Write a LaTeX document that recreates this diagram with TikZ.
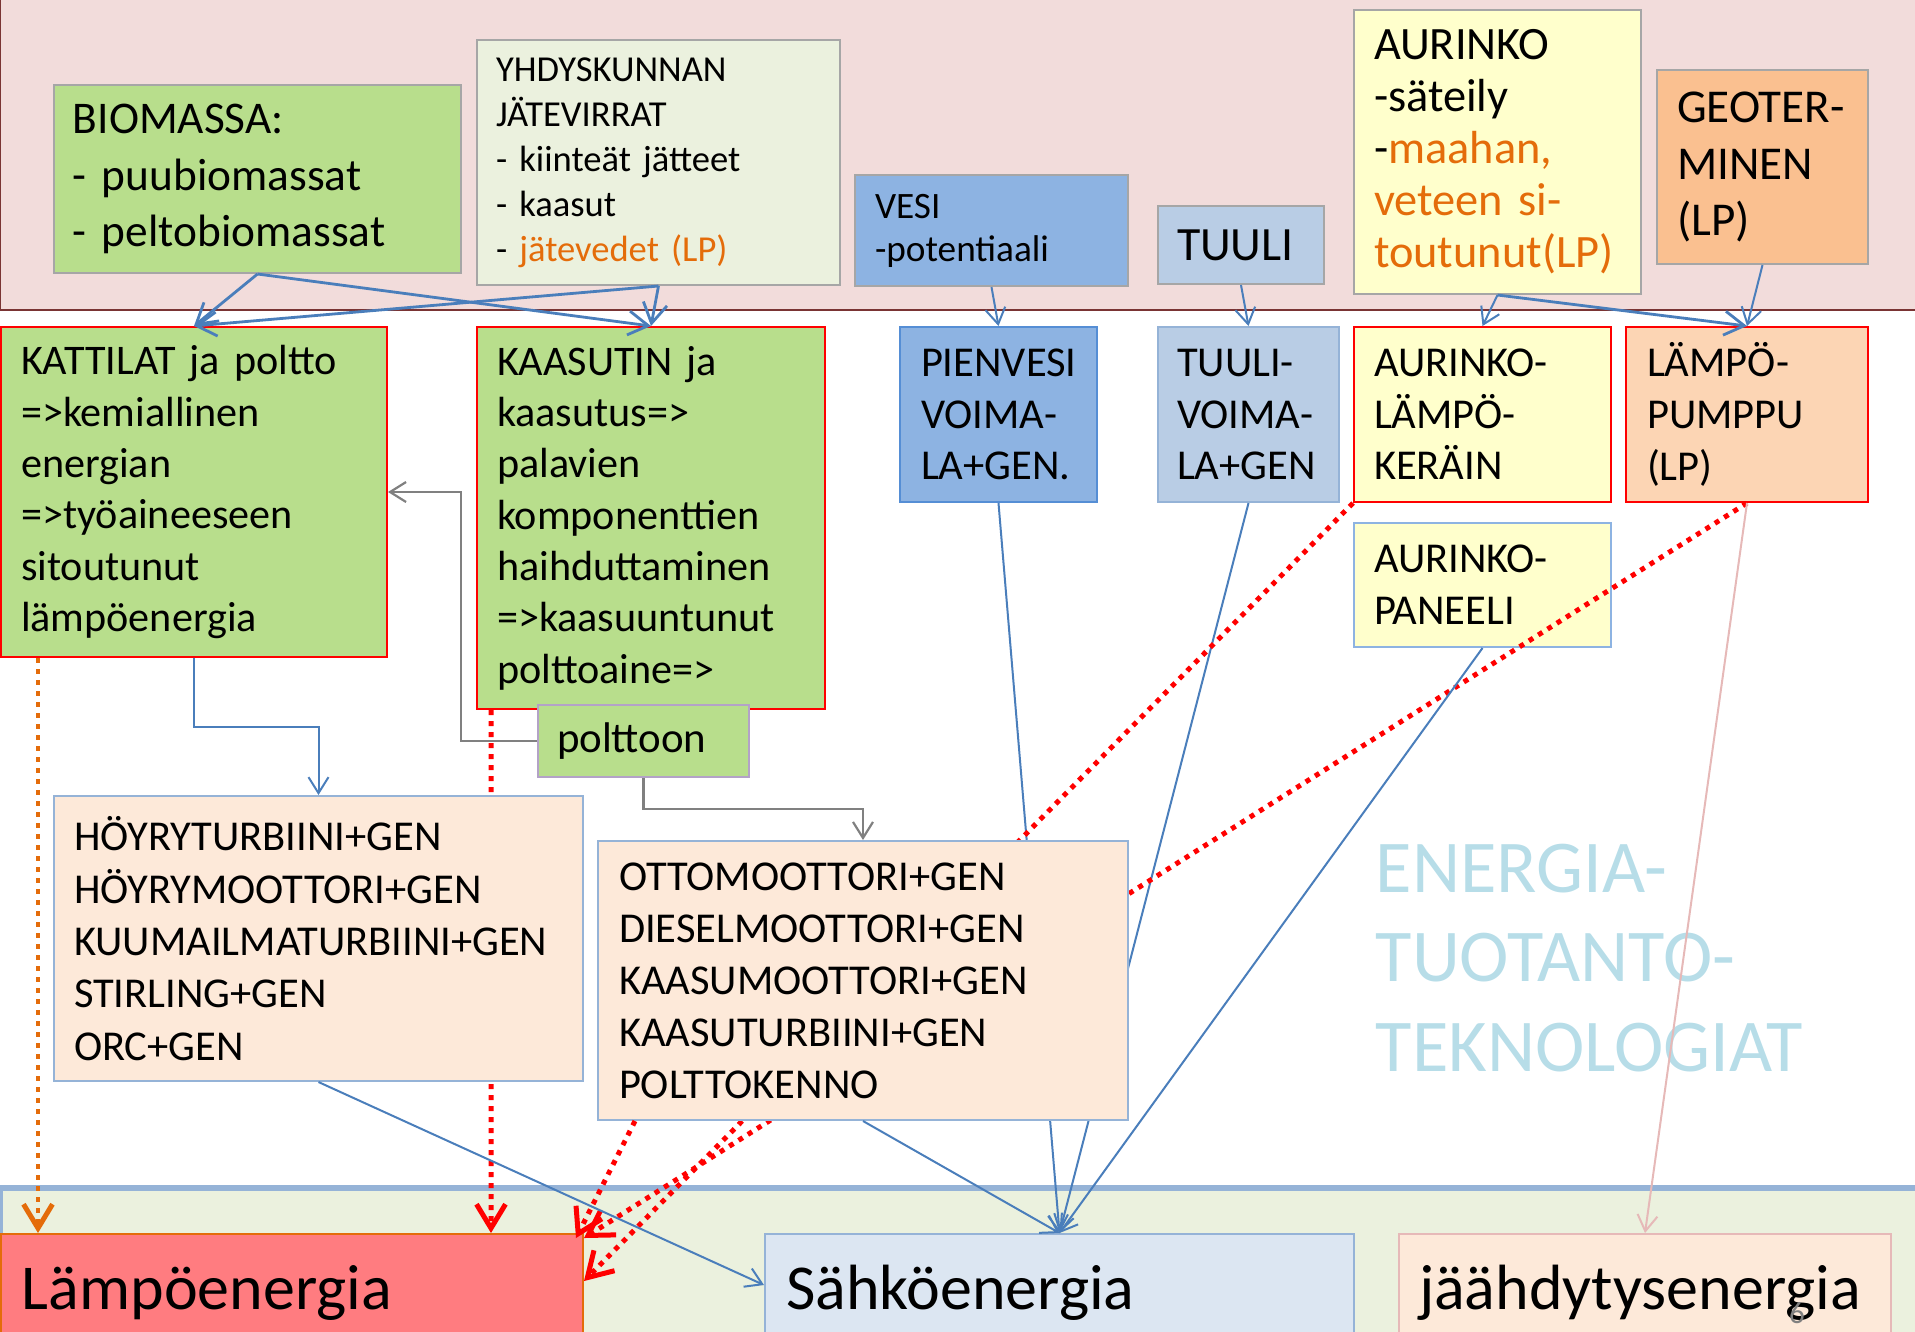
\documentclass[tikz,border=0pt]{standalone}
\usepackage{fontspec}
\setmainfont{Carlito}
\usepackage{tikz}
\usetikzlibrary{arrows.meta,calc}
\hyphenpenalty=10000
\exhyphenpenalty=10000

\definecolor{bandpink}{HTML}{F2DCDB}
\definecolor{bandline}{HTML}{7A3434}
\definecolor{bandgreen}{HTML}{EBF1DE}
\definecolor{bandblue}{HTML}{95B3D7}
\definecolor{biogreen}{HTML}{B8DE8C}
\definecolor{palegreen}{HTML}{EBF1DE}
\definecolor{waterblue}{HTML}{8DB3E2}
\definecolor{windblue}{HTML}{B9CDE5}
\definecolor{sunyellow}{HTML}{FFFFCC}
\definecolor{geoorange}{HTML}{FAC090}
\definecolor{pumporange}{HTML}{FCD5B4}
\definecolor{peach}{HTML}{FDE9D9}
\definecolor{heatred}{HTML}{FF7C80}
\definecolor{elblue}{HTML}{DCE6F2}
\definecolor{lporange}{HTML}{E46C0A}
\definecolor{linkblue}{HTML}{4A7EBB}
\definecolor{boxgray}{HTML}{A6A6A6}
\definecolor{lilac}{HTML}{B3A2C7}
\definecolor{coolpink}{HTML}{E6B9B8}
\definecolor{titleblue}{HTML}{B7DDE8}
\definecolor{pienblue}{HTML}{558ED5}

\newcommand{\fsz}[2]{\fontsize{#1pt}{#2pt}\selectfont}

\tikzstyle{box}  = [draw, rectangle, anchor=north west, align=left, inner sep=0pt, line width=0.2mm]
\tikzstyle{link} = [draw=linkblue, line width=0.2mm, -{Straight Barb[length=1.6mm,width=2mm]}]
\tikzstyle{feed} = [draw=linkblue, line width=0.28mm, -{Straight Barb[length=2mm,width=2.4mm]}]
\tikzstyle{fuel} = [draw=gray, line width=0.22mm, -{Straight Barb[length=1.6mm,width=2mm]}]
\tikzstyle{heat} = [draw=red, line width=0.5mm, dash pattern=on 0.5mm off 0.6mm, -{Straight Barb[length=2.4mm,width=2.9mm]}]
\tikzstyle{cool} = [draw=coolpink, line width=0.2mm, -{Straight Barb[length=1.6mm,width=2mm]}]

\begin{document}
\begin{tikzpicture}[x=0.1mm,y=-0.1mm]
	\useasboundingbox (0,0) rectangle (1915,1331);

	% backgrounds
	\fill[bandpink] (0,-10) rectangle (1930,310);
	\draw[bandline, line width=0.25mm] (0,-10) -- (0,310) -- (1930,310);
	\filldraw[fill=bandgreen, draw=bandblue, line width=0.57mm] (0,1188) rectangle (1930,1345);

	% sources
	\node[box, fill=biogreen, draw=boxgray, minimum width=40.7mm, minimum height=18.8mm, text width=36.9mm, font=\fsz{12.9}{16}] (bio) at (53,84) {BIOMASSA:\\- puubiomassat\\- peltobiomassat};
	\node[box, fill=palegreen, draw=boxgray, minimum width=36.3mm, minimum height=24.5mm, text width=32.5mm, font=\fsz{10.4}{12.8}] (yhd) at (476,39) {YHDYSKUNNAN\\JÄTEVIRRAT\\- kiinteät jätteet\\- kaasut\\- \textcolor{lporange}{jätevedet (LP)}};
	\node[box, fill=waterblue, draw=boxgray, minimum width=27.3mm, minimum height=11.1mm, text width=23.3mm, font=\fsz{10.6}{12.2}] (vesi) at (854,174) {VESI\\-potentiaali};
	\node[box, fill=windblue, draw=boxgray, minimum width=16.6mm, minimum height=7.8mm, text width=12.8mm, font=\fsz{13.6}{15}] (tuuli) at (1157,205) {TUULI};
	\node[box, fill=sunyellow, draw=boxgray, minimum width=28.7mm, minimum height=28.4mm, text width=24.7mm, font=\fsz{13.2}{14.8}] (aur) at (1353,9) {AURINKO\\-säteily\\-\textcolor{lporange}{maahan,}\\\textcolor{lporange}{veteen si-}\\\textcolor{lporange}{toutunut(LP)}};
	\node[box, fill=geoorange, draw=boxgray, minimum width=21.1mm, minimum height=19.4mm, text width=17.1mm, font=\fsz{13.4}{16.1}] (geo) at (1656,69) {GEOTER-\\MINEN\\(LP)};

	% conversion
	\node[box, fill=biogreen, draw=red, minimum width=38.6mm, minimum height=33mm, text width=34.6mm, font=\fsz{12}{14.6}] (katt) at (0,326) {KATTILAT ja poltto\\=>kemiallinen\\energian\\=>työaineeseen\\sitoutunut\\lämpöenergia};
	\node[box, fill=biogreen, draw=red, minimum width=34.8mm, minimum height=38.2mm, text width=30.8mm, font=\fsz{12}{14.6}] (kaas) at (476,326) {KAASUTIN ja\\kaasutus=>\\palavien\\komponenttien\\haihduttaminen\\=>kaasuuntunut\\polttoaine=>};
	\node[box, fill=biogreen, draw=lilac, minimum width=21.1mm, minimum height=7.2mm, text width=17.3mm, font=\fsz{12.2}{13}] (polt) at (537,704) {polttoon};
	\node[box, fill=waterblue, draw=pienblue, minimum width=19.7mm, minimum height=17.5mm, text width=15.5mm, font=\fsz{12.1}{14.7}] (pien) at (899,326) {PIENVESI\\VOIMA-\\LA+GEN.};
	\node[box, fill=windblue, draw=bandblue, minimum width=18.1mm, minimum height=17.5mm, text width=14.3mm, font=\fsz{12.1}{14.7}] (tvoim) at (1157,326) {TUULI-\\VOIMA-\\LA+GEN};
	\node[box, fill=sunyellow, draw=red, minimum width=25.7mm, minimum height=17.5mm, text width=21.7mm, font=\fsz{12.1}{14.7}] (akera) at (1353,326) {AURINKO-\\LÄMPÖ-\\KERÄIN};
	\node[box, fill=pumporange, draw=red, minimum width=24.2mm, minimum height=17.5mm, text width=20mm, font=\fsz{12.1}{14.7}] (lpump) at (1625,326) {LÄMPÖ-\\PUMPPU\\(LP)};
	\node[box, fill=sunyellow, draw=waterblue, minimum width=25.7mm, minimum height=12.4mm, text width=21.7mm, font=\fsz{12.1}{14.7}] (apan) at (1353,522) {AURINKO-\\PANEELI};

	% energy forms
	\node[box, fill=heatred, draw=lporange, minimum width=58.2mm, minimum height=11.7mm, text width=54mm, font=\fsz{18.2}{20}] (lampo) at (0,1233) {Lämpöenergia};
	\node[box, fill=elblue, draw=bandblue, minimum width=58.9mm, minimum height=11.7mm, text width=54.7mm, font=\fsz{18.2}{20}] (sahko) at (764,1233) {Sähköenergia};
	\node[box, fill=peach, draw=coolpink, minimum width=49.2mm, minimum height=11.7mm, text width=45.2mm, font=\fsz{18.2}{20}] (jaah) at (1398,1233) {jäähdytysenergia};

	\node[anchor=north west, inner sep=0pt, align=left, text=titleblue, font=\fsz{21.2}{25.5}] (title) at (1375,843) {ENERGIA-\\TUOTANTO-\\TEKNOLOGIAT};

	% lines running behind the engine boxes
	\draw[heat] ([xshift=1.5mm]kaas.south west) -- ([xshift=49.1mm]lampo.north west);
	\draw[link] (pien.south) -- (sahko.north);
	\draw[link] (tvoim.south) -- (sahko.north);
	\draw[heat] (akera.south west) -- ([yshift=1.15mm]lampo.east);
	\draw[heat] (lpump.south) -- ([yshift=-0.5mm]lampo.north east);

	% engines
	\node[box, fill=peach, draw=bandblue, minimum width=52.9mm, minimum height=28.5mm, text width=48.9mm, font=\fsz{12.1}{14.9}] (hoyry) at (53,795) {HÖYRYTURBIINI+GEN\\HÖYRYMOOTTORI+GEN\\KUUMAILMATURBIINI+GEN\\STIRLING+GEN\\ORC+GEN};
	\node[box, fill=peach, draw=bandblue, minimum width=53mm, minimum height=27.9mm, text width=48.8mm, font=\fsz{12.1}{14.8}] (otto) at (597,840) {OTTOMOOTTORI+GEN\\DIESELMOOTTORI+GEN\\KAASUMOOTTORI+GEN\\KAASUTURBIINI+GEN\\POLTTOKENNO};

	% feeds from the sources
	\draw[feed] (bio.south) -- (katt.north);
	\draw[feed] (bio.south) -- (kaas.north);
	\draw[feed] (yhd.south) -- (katt.north);
	\draw[feed] (yhd.south) -- (kaas.north);
	\draw[link] (vesi.south) -- (pien.north);
	\draw[link] (tuuli.south) -- (tvoim.north);
	\draw[link] (aur.south) -- (akera.north);
	\draw[feed] (aur.south) -- (lpump.north);
	\draw[link] (geo.south) -- (lpump.north);

	% fuel and steam
	\draw[fuel] (polt.west) -- ++(-76,0) |- (katt.east);
	\draw[fuel] (polt.south) -- ++(0,31) -| (otto.north);
	\draw[link] (katt.south) -- ++(0,69) -| (hoyry.north);
	\draw[heat, draw=lporange] ([xshift=3.8mm]katt.south west) -- ([xshift=3.8mm]lampo.north west);

	% to the energy forms
	\draw[link] (hoyry.south) -- ([yshift=0.75mm]sahko.west);
	\draw[link] (otto.south) -- (sahko.north);
	\draw[link] (apan.south) -- (sahko.north);
	\draw[heat] ([xshift=3.8mm]otto.south west) -- ([xshift=-0.8mm,yshift=-0.5mm]lampo.north east);
	\draw[cool] (lpump.south) -- (jaah.north);

	\node[anchor=base, inner sep=0pt, text=gray, font=\fsz{8.8}{10}] (pagenum) at (1797,1323) {6};
\end{tikzpicture}
\end{document}
